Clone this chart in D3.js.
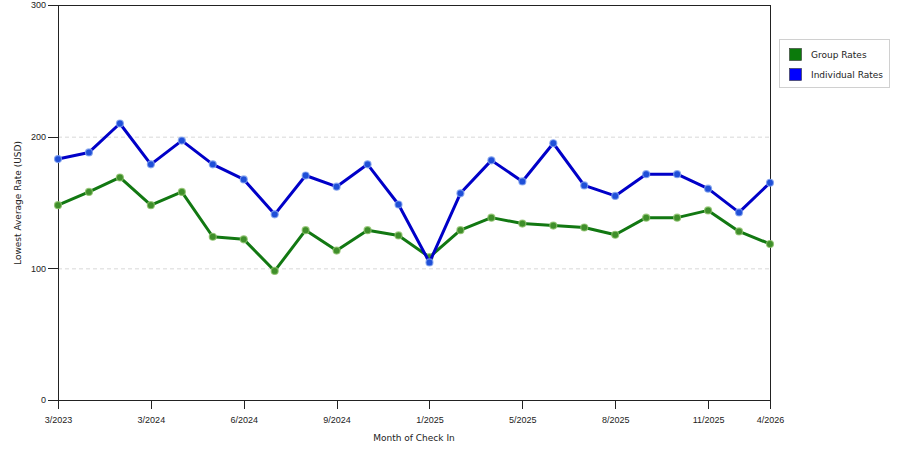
<!DOCTYPE html>
<html>
<head>
<meta charset="utf-8">
<script src="https://cdn.jsdelivr.net/npm/d3@7"></script>
<style>
    body { margin: 0; background: #fff; }
    svg { font-family: "DejaVu Sans", Verdana, sans-serif; }
    .axis text { font-size: 9px; fill: #222; }
    .axis path, .axis line { stroke: #222; shape-rendering: crispEdges; }
</style>
</head>
<body>
<div id="graphArea"></div>
<script>
var months = ["3/2023", "4/2023", "5/2023", "3/2024", "4/2024", "5/2024", "6/2024", "7/2024",
              "8/2024", "9/2024", "10/2024", "11/2024", "1/2025", "3/2025", "4/2025", "5/2025",
              "6/2025", "7/2025", "8/2025", "9/2025", "10/2025", "11/2025", "2/2026", "4/2026"];
var groupRates = [148, 158, 169, 148, 158, 124, 122, 98, 129, 113.5, 129, 125, 108.5,
                  129, 138.5, 134, 132.5, 131, 125.5, 138.5, 138.5, 144, 128, 118.5];
var individualRates = [183, 188, 210, 179, 197, 179, 167.5, 141, 170.5, 162, 179, 148.5, 104.5,
                       157, 182, 166, 195, 163, 155, 171.5, 171.5, 160.5, 142.5, 165];
var tickLabels = ["3/2023", "3/2024", "6/2024", "9/2024", "1/2025", "5/2025", "8/2025", "11/2025", "4/2026"];
var yTicks = [0, 100, 200, 300];
var seriesNames = ["Group Rates", "Individual Rates"];

function visualize() {
    var w = 900, h = 450;
    var left = 58, right = 770, top = 5, bottom = 400;

    var svg = d3.select("#graphArea").append("svg").attr("width", w).attr("height", h);

    var x = d3.scalePoint().domain(months).range([left, right]);
    var y = d3.scaleLinear().domain([0, 300]).range([bottom, top]);

    // dashed grid
    svg.append("g").selectAll("line")
        .data(yTicks.filter((d) => d > 0 && d < 300))
        .enter().append("line")
        .attr("x1", left).attr("x2", right)
        .attr("y1", (d) => y(d) + 0.5).attr("y2", (d) => y(d) + 0.5)
        .style("stroke", "#d8d8d8")
        .style("stroke-dasharray", "4,3");

    // frame top + right
    svg.append("path")
        .attr("d", "M" + left + "," + (top + 0.5) + "H" + (right + 0.5) + "V" + bottom)
        .style("fill", "none").style("stroke", "#222").style("shape-rendering", "crispEdges");

    var xAxis = d3.axisBottom(x).tickValues(tickLabels).tickSize(9).tickSizeOuter(0).tickPadding(8);
    var yAxis = d3.axisLeft(y).tickValues(yTicks).tickSize(10).tickSizeOuter(0).tickPadding(2);

    svg.append("g")
        .attr("class", "x axis")
        .attr("transform", "translate(0," + bottom + ")")
        .call(xAxis);

    svg.append("g")
        .attr("class", "y axis")
        .attr("transform", "translate(" + left + ",0)")
        .call(yAxis);

    svg.append("text")
        .attr("x", 414).attr("y", 441)
        .style("text-anchor", "middle").style("font-size", "9px").style("fill", "#222")
        .text("Month of Check In");

    svg.append("text")
        .attr("transform", "translate(21,203) rotate(-90)")
        .style("text-anchor", "middle").style("font-size", "9px").style("fill", "#222")
        .text("Lowest Average Rate (USD)");

    var series = [
        { name: seriesNames[0], values: groupRates, line: "#127812", dot: "#3f8f2a", halo: "#8cc06a", key: "#0b7a0b" },
        { name: seriesNames[1], values: individualRates, line: "#0000c8", dot: "#1f4fd8", halo: "#7fa0ee", key: "#0000ff" }
    ];

    var line = d3.line().x((d, i) => x(months[i])).y((d) => y(d));

    series.forEach((s) => {
        svg.append("path")
            .datum(s.values)
            .attr("d", line)
            .style("fill", "none")
            .style("stroke", s.line)
            .style("stroke-width", 3)
            .style("stroke-linejoin", "round");
        svg.append("g").selectAll("circle")
            .data(s.values)
            .enter().append("circle")
            .attr("cx", (d, i) => x(months[i]))
            .attr("cy", (d) => y(d))
            .attr("r", 3.5)
            .style("fill", s.dot)
            .style("stroke", s.halo)
            .style("stroke-width", 1.2)
            .style("stroke-opacity", 0.8);
    });

    // legend
    var legend = svg.append("g").attr("transform", "translate(779,39)");
    legend.append("rect")
        .attr("x", 0.5).attr("y", 0.5).attr("width", 110).attr("height", 48)
        .style("fill", "#fff").style("stroke", "#d0d0d0");
    var items = legend.selectAll("g.item").data(series).enter().append("g")
        .attr("class", "item")
        .attr("transform", (d, i) => "translate(10," + (9 + i * 20) + ")");
    items.append("rect")
        .attr("x", 0.5).attr("y", 0.5).attr("width", 12).attr("height", 12)
        .style("fill", (d) => d.key).style("stroke", "#333").style("stroke-width", 0.6);
    items.append("text")
        .attr("x", 22).attr("y", 10)
        .style("font-size", "9px").style("fill", "#222")
        .text((d) => d.name);
}

document.addEventListener('DOMContentLoaded', () => {
    visualize();
});
</script>
</body>
</html>
